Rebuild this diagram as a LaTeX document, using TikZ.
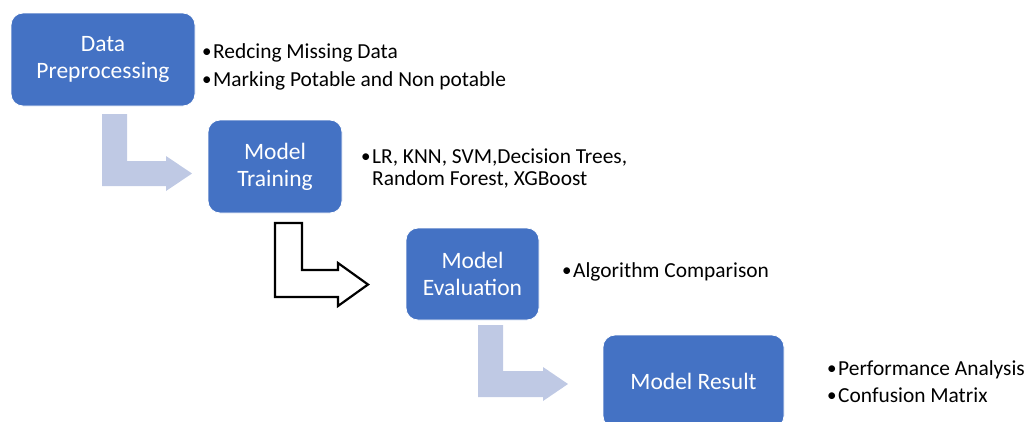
\documentclass[tikz,border=0pt]{standalone}
\usepackage{fontspec}
\setmainfont{Carlito}
\definecolor{boxblue}{HTML}{4472C4}
\definecolor{lightarr}{HTML}{BFC9E4}
\tikzset{
  stage/.style={draw=white, line width=0.8pt, fill=boxblue, rounded corners=12pt, text=white,
    align=center, font=\fontsize{23.5}{27}\selectfont, inner sep=0pt},
  bul/.style={anchor=base west, inner sep=0pt, font=\fontsize{21.4}{22}\selectfont, text=black},
  dot/.style={anchor=base west, inner sep=0pt, font=\fontsize{19}{22}\selectfont, text=black},
  lightarrow/.style={fill=lightarr, draw=none},
  outlinearrow/.style={draw=black, line width=2.2pt, fill=white, line join=miter},
}
\begin{document}
\begin{tikzpicture}[x=1pt,y=-1pt]
\useasboundingbox (0,0) rectangle (1031,421);
\clip (0,0) rectangle (1031,421);
% stages
\node[stage, minimum width=184pt, minimum height=93pt] (b1) at (103,59.5) {Data\\Preprocessing};
\node[stage, minimum width=134pt, minimum height=93pt] (b2) at (275,166.5) {Model\\Training};
\node[stage, minimum width=133pt, minimum height=92pt] (b3) at (472.5,274) {Model\\Evaluation};
\node[stage, minimum width=181pt, minimum height=93pt] (b4) at (693.5,381.5) {Model Result};
% bullets
\node[dot] (d1a) at (202,57) {•};
\node[bul] (t1a) at (213,58) {Redcing Missing Data};
\node[dot] (d1b) at (202,85) {•};
\node[bul] (t1b) at (213,86) {Marking Potable and Non potable};
\node[dot] (d2a) at (361,162) {•};
\node[bul] (t2a) at (372,163) {LR, KNN, SVM,Decision Trees,};
\node[bul] (t2b) at (372,185) {Random Forest, XGBoost};
\node[dot] (d3a) at (562,276) {•};
\node[bul] (t3a) at (573,277) {Algorithm Comparison};
\node[dot] (d4a) at (827,374) {•};
\node[bul] (t4a) at (838,375) {Performance Analysis};
\node[dot] (d4b) at (827,401) {•};
\node[bul] (t4b) at (838,402) {Confusion Matrix};
% bent arrows
\fill[lightarrow] (102,114) -- (127,114) -- (127,161) -- (166,161) -- (166,156) -- (192,173.5)
  -- (166,191) -- (166,186) -- (102,186) -- cycle;
\draw[outlinearrow] (275,223) -- (302,223) -- (302,270) -- (338,270) -- (338,263) -- (368,284.5)
  -- (338,306) -- (338,297) -- (275,297) -- cycle;
\fill[lightarrow] (478,325) -- (503,325) -- (503,371) -- (543,371) -- (543,367) -- (568,384)
  -- (543,401) -- (543,397) -- (478,397) -- cycle;
\end{tikzpicture}
\end{document}
